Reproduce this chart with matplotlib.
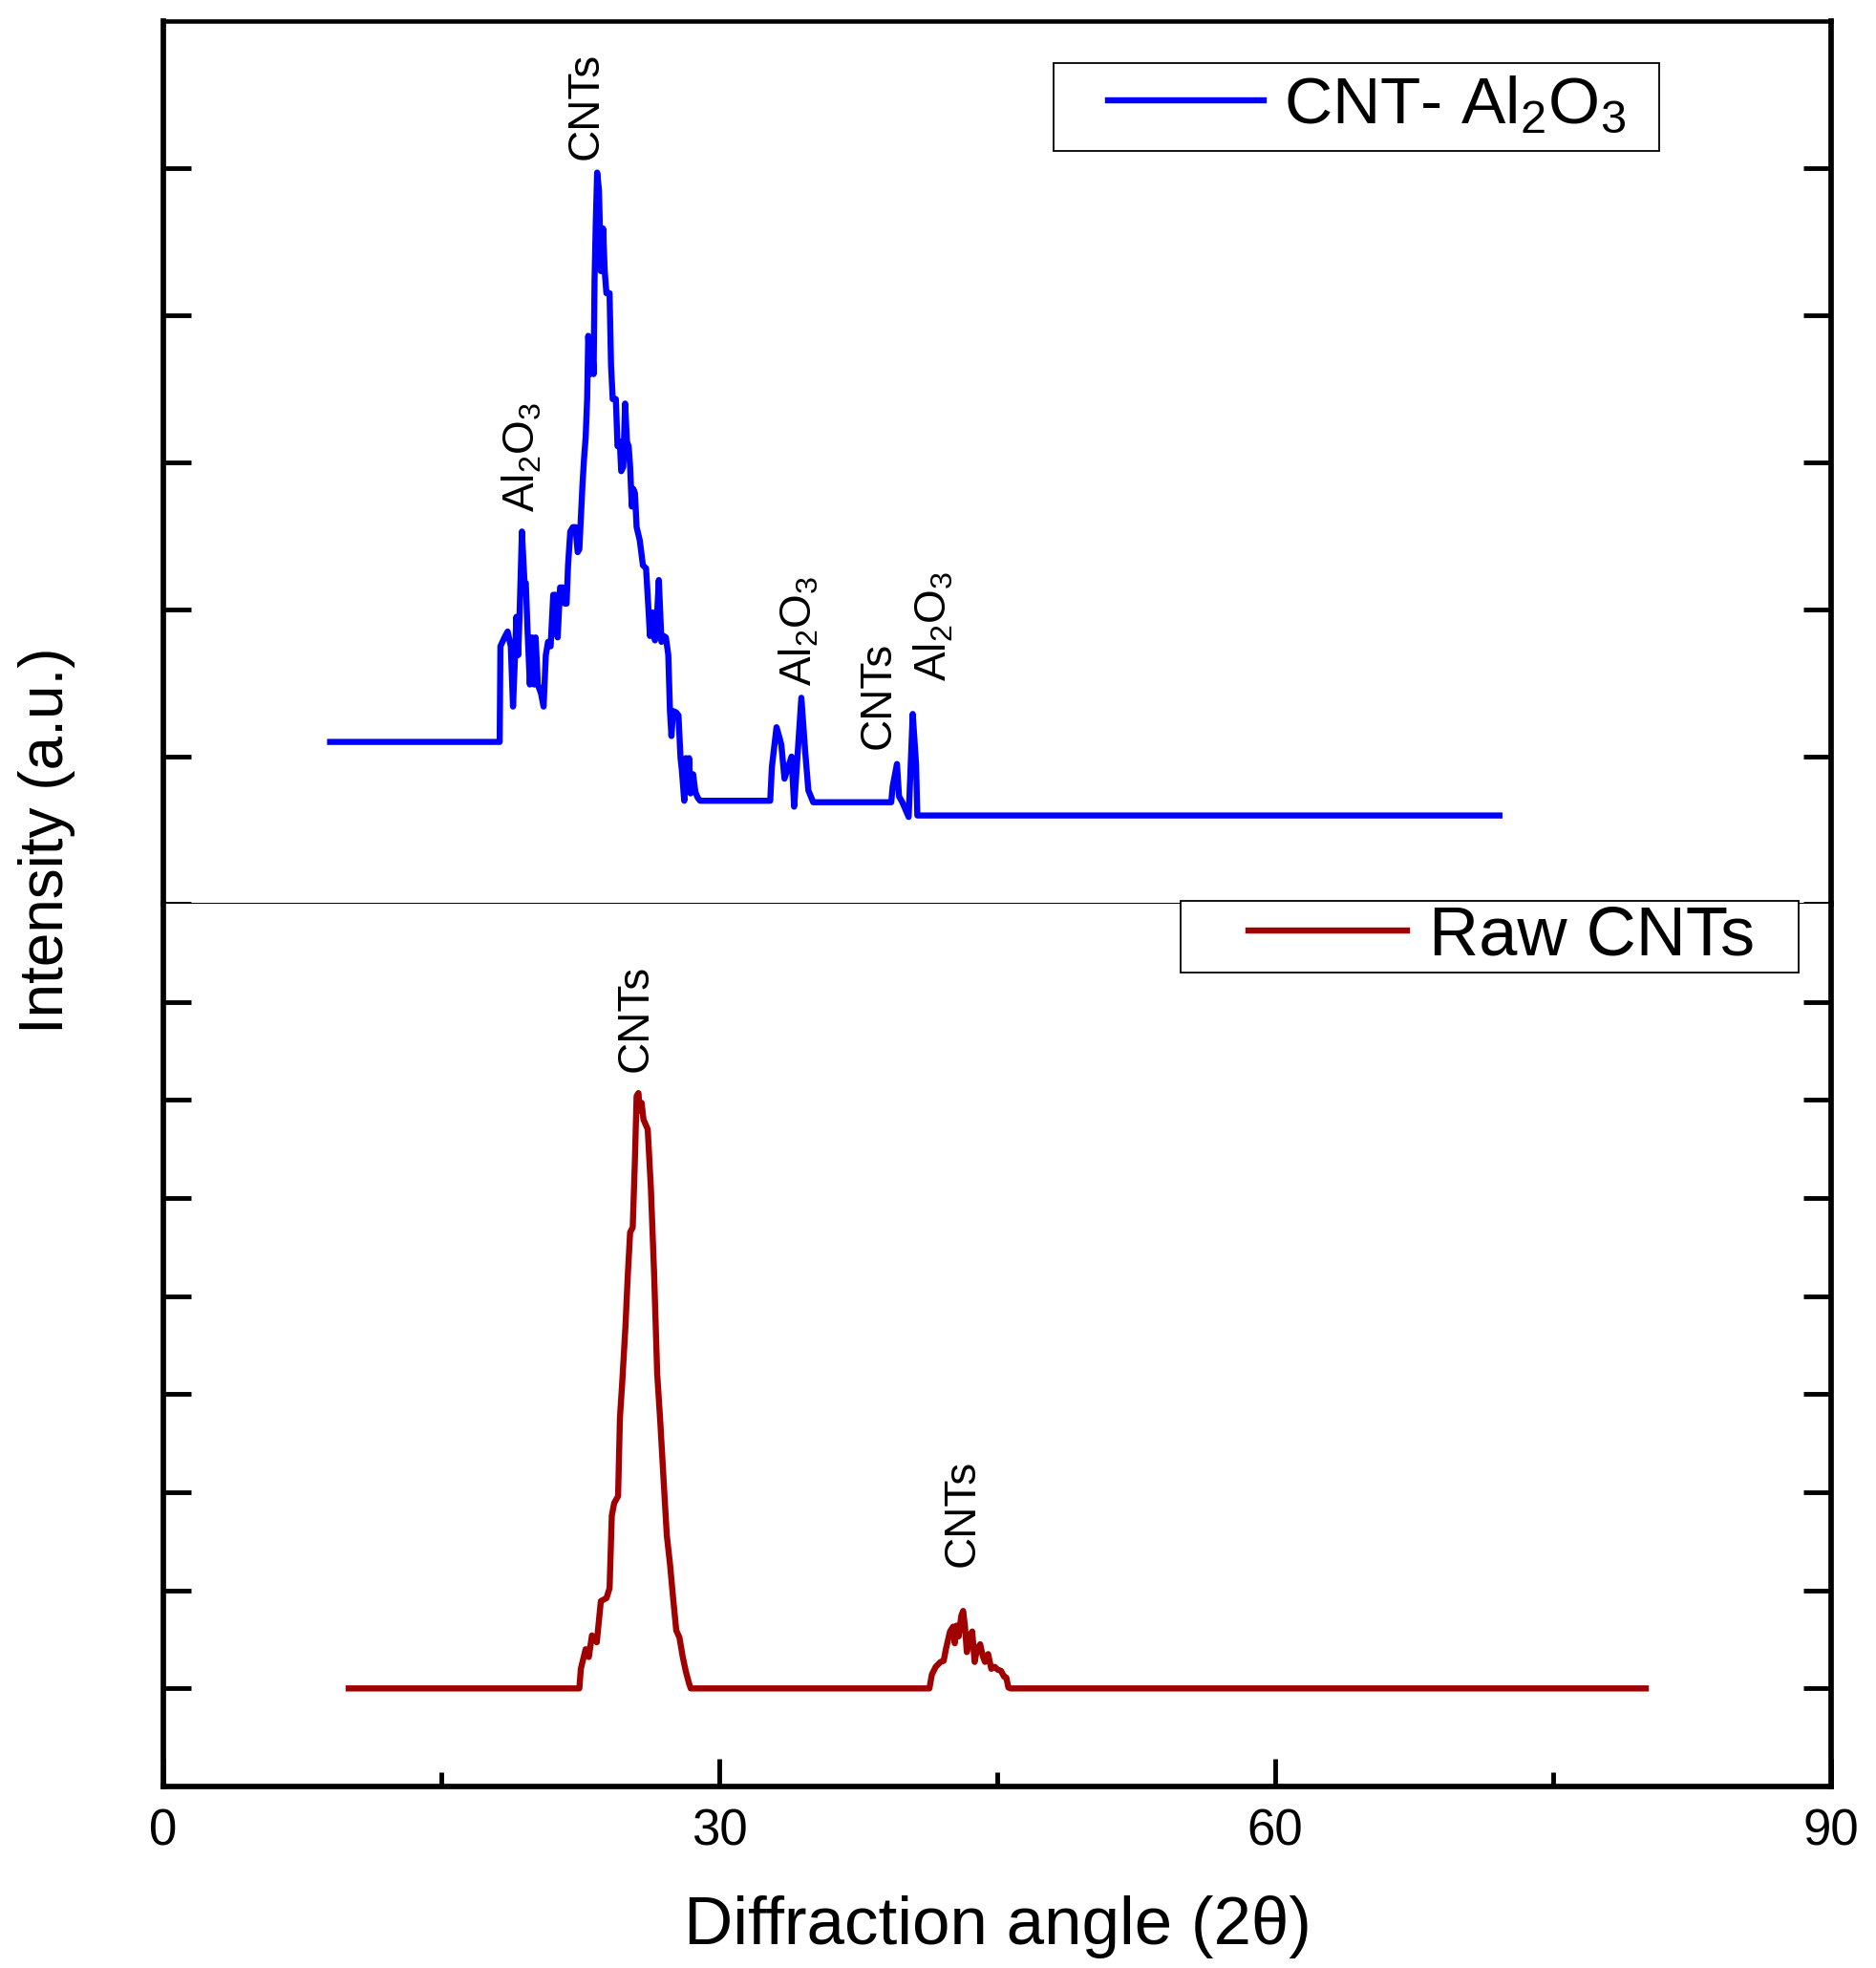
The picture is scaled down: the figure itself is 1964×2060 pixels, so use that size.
import numpy as np
import matplotlib
matplotlib.use('Agg')
import matplotlib.pyplot as plt
from matplotlib.patches import Rectangle

plt.rcParams['font.family'] = ['Liberation Sans', 'DejaVu Sans']
plt.rcParams['mathtext.fontset'] = 'custom'
plt.rcParams['mathtext.rm'] = 'Liberation Sans'
plt.rcParams['mathtext.it'] = 'Liberation Sans'
plt.rcParams['mathtext.default'] = 'rm'

# CNT-Al2O3 pattern (2theta, intensity a.u.)
cnt_al2o3_pts = [
    (9.0, 1.10), (18.15, 1.10), (18.19, 1.75), (18.41, 1.81), (18.58, 1.85), (18.75, 1.75),
    (18.87, 1.34), (18.98, 1.69), (19.05, 1.95), (19.15, 1.69), (19.22, 1.95), (19.35, 2.53),
    (19.49, 2.18), (19.56, 2.18), (19.66, 1.84), (19.78, 1.49), (19.90, 1.81), (20.01, 1.49),
    (20.09, 1.81), (20.21, 1.49), (20.38, 1.43), (20.52, 1.34), (20.64, 1.69), (20.76, 1.78),
    (20.90, 1.75), (21.04, 2.10), (21.16, 2.10), (21.28, 1.81), (21.41, 2.15), (21.55, 2.15),
    (21.67, 2.04), (21.76, 2.04), (21.84, 2.30), (21.96, 2.53), (22.10, 2.56), (22.24, 2.56),
    (22.36, 2.39), (22.45, 2.41), (22.53, 2.62), (22.62, 2.85), (22.70, 3.02), (22.79, 3.17),
    (22.87, 3.43), (22.93, 3.86), (23.05, 3.60), (23.13, 3.84), (23.22, 3.60), (23.27, 4.24),
    (23.34, 4.65), (23.41, 4.97), (23.51, 4.85), (23.61, 4.30), (23.73, 4.59), (23.82, 4.30),
    (23.91, 4.15), (24.08, 4.15), (24.16, 3.66), (24.25, 3.43), (24.42, 3.43), (24.51, 3.11),
    (24.63, 3.14), (24.71, 2.94), (24.82, 2.97), (24.92, 3.40), (25.02, 3.14), (25.11, 3.11),
    (25.19, 2.97), (25.28, 2.70), (25.36, 2.82), (25.45, 2.79), (25.54, 2.56), (25.71, 2.47),
    (25.88, 2.30), (26.05, 2.28), (26.19, 1.98), (26.26, 1.82), (26.40, 1.98), (26.53, 1.79),
    (26.65, 1.98), (26.74, 2.20), (26.88, 1.78), (27.00, 1.82), (27.12, 1.81), (27.25, 1.69),
    (27.34, 1.31), (27.42, 1.14), (27.51, 1.31), (27.68, 1.30), (27.80, 1.28), (27.91, 0.99),
    (27.98, 0.91), (28.11, 0.70), (28.20, 0.99), (28.28, 0.76), (28.37, 0.99), (28.45, 0.75),
    (28.59, 0.88), (28.71, 0.76), (28.84, 0.72), (28.97, 0.70),
    (32.75, 0.70), (32.84, 0.93), (33.09, 1.20), (33.27, 1.12), (33.35, 1.08), (33.52, 0.85),
    (33.90, 1.00), (34.04, 0.66), (34.43, 1.40), (34.64, 1.03), (34.81, 0.77), (35.07, 0.69),
    (39.28, 0.69), (39.36, 0.80), (39.59, 0.95), (39.70, 0.73), (39.88, 0.69), (40.22, 0.59),
    (40.44, 1.29), (40.62, 0.95), (40.69, 0.60), (72.1, 0.60),
]

# Raw CNTs pattern
raw_cnt_pts = [
    (10.0, 1.00), (22.45, 1.00), (22.53, 1.20), (22.79, 1.40), (22.96, 1.32), (23.13, 1.54),
    (23.39, 1.47), (23.61, 1.89), (23.91, 1.92), (24.08, 2.02), (24.20, 2.76), (24.33, 2.89),
    (24.54, 2.96), (24.64, 3.76), (24.76, 4.11), (24.94, 4.70), (25.06, 5.20), (25.19, 5.65),
    (25.33, 5.70), (25.45, 6.40), (25.54, 7.04), (25.64, 7.07), (25.71, 6.89), (25.81, 6.97),
    (25.91, 6.80), (26.14, 6.70), (26.31, 6.10), (26.48, 5.25), (26.65, 4.21), (26.82, 3.71),
    (27.00, 3.11), (27.17, 2.56), (27.34, 2.27), (27.51, 1.92), (27.68, 1.59), (27.85, 1.52),
    (28.03, 1.32), (28.20, 1.17), (28.37, 1.05), (28.46, 1.00),
    (41.34, 1.00), (41.47, 1.14), (41.68, 1.22), (41.94, 1.27), (42.11, 1.28), (42.23, 1.40),
    (42.45, 1.58), (42.62, 1.63), (42.71, 1.46), (42.80, 1.64), (42.92, 1.53), (43.06, 1.74),
    (43.16, 1.79), (43.26, 1.63), (43.36, 1.37), (43.48, 1.53), (43.65, 1.58), (43.78, 1.27),
    (43.91, 1.40), (44.08, 1.45), (44.22, 1.33), (44.34, 1.27), (44.51, 1.35), (44.68, 1.20),
    (44.86, 1.22), (45.03, 1.19), (45.20, 1.18), (45.37, 1.12), (45.49, 1.11), (45.60, 1.01),
    (45.71, 1.00), (80.0, 1.00),
]

# peak labels: (text, x, y of label bottom)
top_labels = [
    ('CNTs', 22.8, 5.06),
    ('Al$_2$O$_3$', 19.35, 2.66),
    ('Al$_2$O$_3$', 34.3, 1.48),
    ('CNTs', 38.57, 1.05),
    ('Al$_2$O$_3$', 41.6, 1.51),
]
bottom_labels = [
    ('CNTs', 25.5, 7.29),
    ('CNTs', 43.1, 2.24),
]

x_major = [0, 30, 60, 90]
x_minor = [15, 45, 75]

top_x, top_y = zip(*cnt_al2o3_pts)
raw_x, raw_y = zip(*raw_cnt_pts)

fig = plt.figure(figsize=(19.64, 20.60), dpi=100)
ax_top = fig.add_axes([0.08707, 0.54078, 0.8890, 0.44854])
ax_bot = fig.add_axes([0.08707, 0.09223, 0.8890, 0.44854])

ax_top.plot(top_x, top_y, color='#0000FF', lw=4.6, label='CNT- Al$_2$O$_3$')
ax_bot.plot(raw_x, raw_y, color='#A00000', lw=4.6, label='Raw CNTs')

ax_top.set_xlim(0, 90)
ax_bot.set_xlim(0, 90)
ax_top.set_ylim(0, 6)
ax_bot.set_ylim(0, 9)

for ax in (ax_top, ax_bot):
    for s in ('left', 'right'):
        ax.spines[s].set_linewidth(4.1)
    ax.tick_params(axis='y', which='both', direction='in', left=True, right=True,
                   labelleft=False, length=21, width=3.5)
ax_top.spines['top'].set_linewidth(3.3)
ax_top.spines['bottom'].set_linewidth(1.4)
ax_bot.spines['top'].set_visible(False)
ax_bot.spines['bottom'].set_linewidth(4.1)

ax_top.set_yticks(range(0, 6))
ax_bot.set_yticks(range(1, 9))
ax_top.set_xticks([])
ax_top.tick_params(axis='x', bottom=False, top=False, labelbottom=False)

ax_bot.set_xticks(x_major)
ax_bot.set_xticks(x_minor, minor=True)
ax_bot.tick_params(axis='x', which='major', direction='in', length=21, width=3.5,
                   labelsize=38, pad=16, top=False)
ax_bot.tick_params(axis='x', which='minor', direction='in', length=11, width=3.5, top=False)
ax_bot.set_xlabel('Diffraction angle (2θ)', fontsize=51, labelpad=30)

fig.text(49 / 1964, 1 - 880 / 2060, 'Intensity (a.u.)', rotation=90,
         ha='center', va='center', fontsize=46)

for txt, x, y in top_labels:
    ax_top.text(x, y, txt, rotation=90, ha='center', va='bottom', fontsize=33)
for txt, x, y in bottom_labels:
    ax_bot.text(x, y, txt, rotation=90, ha='center', va='bottom', fontsize=33)

# legends: text + line without frame, box drawn separately
ax_top.legend(loc='center left', bbox_to_anchor=(0.5664, 0.903), frameon=False,
              borderaxespad=0, borderpad=0, handlelength=2.35, handletextpad=0.30,
              fontsize=50)
ax_top.add_patch(Rectangle((0.534, 0.853), 0.363, 0.0996, transform=ax_top.transAxes,
                           facecolor='white', edgecolor='black', lw=1.3, zorder=4,
                           clip_on=False))
ax_bot.legend(loc='center left', bbox_to_anchor=(0.6506, 0.962), frameon=False,
              borderaxespad=0, borderpad=0, handlelength=2.30, handletextpad=0.32,
              fontsize=52)
ax_bot.add_patch(Rectangle((0.610, 0.922), 0.3705, 0.081, transform=ax_bot.transAxes,
                           facecolor='white', edgecolor='black', lw=1.3, zorder=4,
                           clip_on=False))

fig.savefig('out.png', dpi=100)
